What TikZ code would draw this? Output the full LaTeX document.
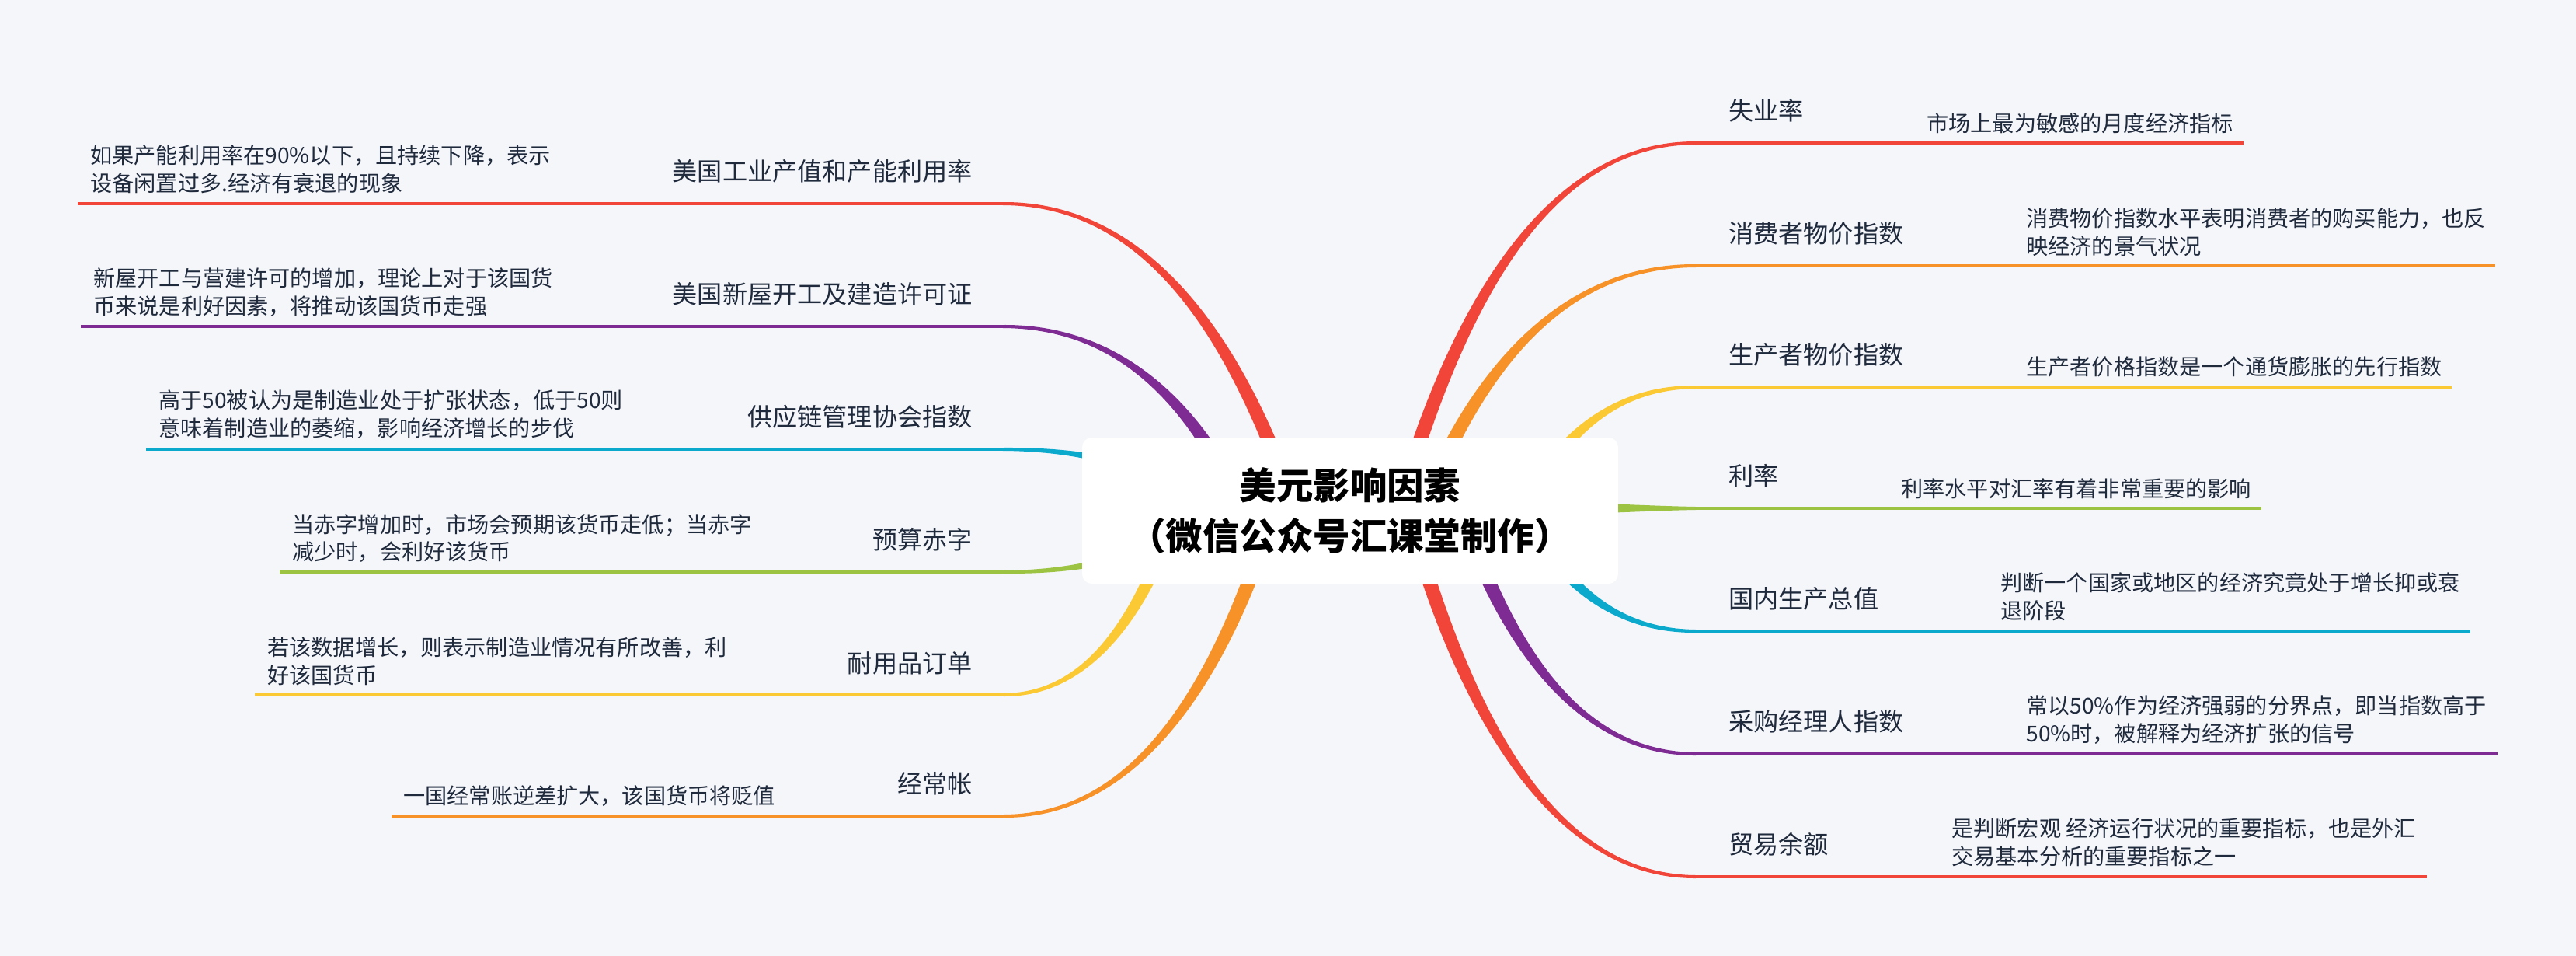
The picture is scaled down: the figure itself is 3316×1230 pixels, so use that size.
\documentclass[tikz,border=0pt]{standalone}
\usepackage{fontspec}
\setmainfont{Noto Sans CJK SC}
\usetikzlibrary{backgrounds,calc}
\definecolor{bgc}{HTML}{F5F6FA}
\definecolor{cred}{HTML}{F2453A}
\definecolor{cpurple}{HTML}{7F2B94}
\definecolor{cteal}{HTML}{0BA9CC}
\definecolor{cgreen}{HTML}{9DC343}
\definecolor{cyellow}{HTML}{FBC934}
\definecolor{corange}{HTML}{F79229}
\definecolor{ctext}{HTML}{1F2A3D}
\tikzset{
  rootbox/.style={fill=white,rounded corners=7pt,minimum width=13.8cm,minimum height=3.76cm,inner sep=0pt,align=center,text=black,font=\fontsize{27}{37}\selectfont\bfseries},
  mainlabel/.style={inner sep=0pt,text=ctext,yshift=-0.02cm,font=\fontsize{18.3}{23}\selectfont},
  leftmain/.style={mainlabel,anchor=east},
  rightmain/.style={mainlabel,anchor=west},
  sublabel/.style={inner sep=0pt,text=ctext,align=left,anchor=west,yshift=-0.03cm,font=\fontsize{16.03}{20.4}\selectfont},
  stem/.style={line width=0.08cm}
}
% #1 colour, #2 start offset from root, #3 c1, #4 c2, #5 elbow, #6 far end, #7 half-width offset, #8 elbow offset
\newcommand\branch[8]{%
  \fill[#1] ($(root)+(#2)+(#7)$) .. controls ($(#3)+(#7)$) and ($(#4)+1.5*(0,#8)$) .. ($(#5)+(0,#8)$)
     -- ($(#5)-(0,#8)$) .. controls ($(#4)-1.5*(0,#8)$) and ($(#3)-1*(#7)$) .. ($(root)+(#2)-1*(#7)$) -- cycle;
  \draw[#1,stem] (#5) -- (#6);
}
\begin{document}
\begin{tikzpicture}[x=0.02cm,y=-0.02cm]
\useasboundingbox (0,0) rectangle (3316,1230);
\node[rootbox] (root) at (1738,657) {美元影响因素\\（微信公众号汇课堂制作）};

% left
\node[leftmain] (l1) at (1252,219) {美国工业产值和产能利用率};
\node[leftmain] (l2) at (1252,377) {美国新屋开工及建造许可证};
\node[leftmain] (l3) at (1252,535) {供应链管理协会指数};
\node[leftmain] (l4) at (1252,693) {预算赤字};
\node[leftmain] (l5) at (1252,852) {耐用品订单};
\node[leftmain] (l6) at (1252,1007) {经常帐};
\node[sublabel] (ls1) at (116,216) {如果产能利用率在90\%以下，且持续下降，表示\\设备闲置过多.经济有衰退的现象};
\node[sublabel] (ls2) at (120,375) {新屋开工与营建许可的增加，理论上对于该国货\\币来说是利好因素，将推动该国货币走强};
\node[sublabel] (ls3) at (204,532) {高于50被认为是制造业处于扩张状态，低于50则\\意味着制造业的萎缩，影响经济增长的步伐};
\node[sublabel] (ls4) at (376,691) {当赤字增加时，市场会预期该货币走低；当赤字\\减少时，会利好该货币};
\node[sublabel] (ls5) at (344,849) {若该数据增长，则表示制造业情况有所改善，利\\好该国货币};
\node[sublabel] (ls6) at (519,1023) {一国经常账逆差扩大，该国货币将贬值};

% right
\node[rightmain] (r1) at (2225,141) {失业率};
\node[rightmain] (r2) at (2225,299) {消费者物价指数};
\node[rightmain] (r3) at (2225,455) {生产者物价指数};
\node[rightmain] (r4) at (2225,611) {利率};
\node[rightmain] (r5) at (2225,769) {国内生产总值};
\node[rightmain] (r6) at (2225,927) {采购经理人指数};
\node[rightmain] (r7) at (2225,1085) {贸易余额};
\node[sublabel] (rs1) at (2480,157) {市场上最为敏感的月度经济指标};
\node[sublabel] (rs2) at (2608,297) {消费物价指数水平表明消费者的购买能力，也反\\映经济的景气状况};
\node[sublabel] (rs3) at (2608,470) {生产者价格指数是一个通货膨胀的先行指数};
\node[sublabel] (rs4) at (2447,627) {利率水平对汇率有着非常重要的影响};
\node[sublabel] (rs5) at (2575,766) {判断一个国家或地区的经济究竟处于增长抑或衰\\退阶段};
\node[sublabel] (rs6) at (2608,925) {常以50\%作为经济强弱的分界点，即当指数高于\\50\%时，被解释为经济扩张的信号};
\node[sublabel] (rs7) at (2512,1082) {是判断宏观 经济运行状况的重要指标，也是外汇\\交易基本分析的重要指标之一};

\coordinate (le1) at (1291,262); \coordinate (lf1) at (100,262);
\coordinate (le2) at (1291,420); \coordinate (lf2) at (104,420);
\coordinate (le3) at (1291,578); \coordinate (lf3) at (188,578);
\coordinate (le4) at (1292,736); \coordinate (lf4) at (360,736);
\coordinate (le5) at (1292,894); \coordinate (lf5) at (328,894);
\coordinate (le6) at (1292,1050); \coordinate (lf6) at (504,1050);
\coordinate (re1) at (2183,184); \coordinate (rf1) at (2888,184);
\coordinate (re2) at (2183,342); \coordinate (rf2) at (3212,342);
\coordinate (re3) at (2183,498); \coordinate (rf3) at (3156,498);
\coordinate (re4) at (2183,654); \coordinate (rf4) at (2911,654);
\coordinate (re5) at (2183,812); \coordinate (rf5) at (3180,812);
\coordinate (re6) at (2183,970); \coordinate (rf6) at (3215,970);
\coordinate (re7) at (2183,1128); \coordinate (rf7) at (3124,1128);

\begin{pgfonlayer}{background}
\fill[bgc] (0,0) rectangle (3316,1230);
\branch{cred}{-71,-1}{1590,430}{1475,262}{le1}{lf1}{9,-3}{-2}
\branch{cpurple}{-138,-1}{1538,521}{1442,420}{le2}{lf2}{9,-3}{-2}
\branch{cteal}{-178,-1}{1506,611}{1423,578}{le3}{lf3}{3,-8}{-2}
\branch{cgreen}{-178,-1}{1506,702}{1423,736}{le4}{lf4}{3,8}{2}
\branch{cyellow}{-223,-1}{1470,792}{1401,894}{le5}{lf5}{8,4}{2}
\branch{corange}{-98,-1}{1570,881}{1462,1050}{le6}{lf6}{9,3}{2}
\branch{cred}{62,-1}{1877,387}{1995,184}{re1}{rf1}{-9,-3}{-2}
\branch{corange}{92,-1}{1901,477}{2010,342}{re2}{rf2}{-9,-3}{-2}
\branch{cyellow}{222,-1}{2005,566}{2074,498}{re3}{rf3}{-7,-5}{-2}
\branch{cgreen}{222,-3}{2050,654}{2120,654}{re4}{rf4}{0,-8}{-2}
\branch{cteal}{222,-1}{2005,745}{2074,812}{re5}{rf5}{-7,5}{2}
\branch{cpurple}{142,-1}{1941,835}{2035,970}{re6}{rf6}{-9,3}{2}
\branch{cred}{74,-1}{1886,925}{2002,1128}{re7}{rf7}{-9,3}{2}
\end{pgfonlayer}
\end{tikzpicture}
\end{document}
